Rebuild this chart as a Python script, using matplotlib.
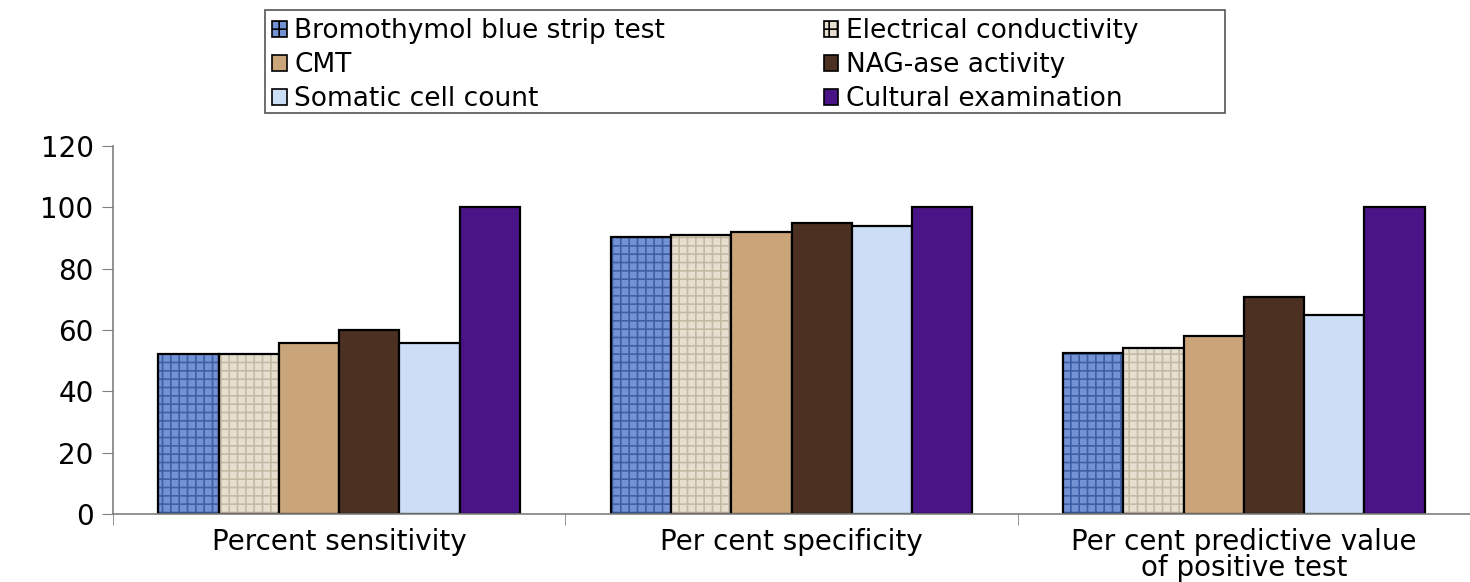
import matplotlib.pyplot as plt
import numpy as np

categories = ['Percent sensitivity', 'Per cent specificity',
              'Per cent predictive value\nof positive test']
tests = ['Bromothymol blue strip test', 'Electrical conductivity', 'CMT',
         'NAG-ase activity', 'Somatic cell count', 'Cultural examination']
values = {
    'Bromothymol blue strip test': [52.3, 90.2, 52.6],
    'Electrical conductivity':     [52.3, 90.9, 54.0],
    'CMT':                         [55.6, 91.9, 58.0],
    'NAG-ase activity':            [60.0, 94.9, 70.8],
    'Somatic cell count':          [55.6, 93.9, 64.8],
    'Cultural examination':        [100.0, 100.0, 100.0],
}

# fill colour, hatch colour, hatch (rough stand-ins for the picture textures)
styles = [('#7392d4', '#3d5fa6', '++'),
          ('#e6dfcf', '#c4b9a2', '++'),
          ('#caa57a', '#a8835a', ''),
          ('#4c3123', '#2f1c12', ''),
          ('#cbdef6', '#b8cdee', ''),
          ('#4b1486', '#3a0d6e', '')]

plt.rcParams['font.family'] = ['DejaVu Sans']
plt.rcParams['hatch.linewidth'] = 1.2

fig = plt.figure(figsize=(14.7, 5.82), dpi=100)
ax = fig.add_axes([113/1470, 1-514/582, 1-113/1470, (514-146)/582])

x = np.arange(len(categories))
w = 0.8 / len(tests)
handles = []
for i, t in enumerate(tests):
    fc, hc, h = styles[i]
    pos = x - 0.4 + w * (i + 0.5)
    ax.bar(pos, values[t], w, color=fc, edgecolor=hc, hatch=h, linewidth=0)
    ax.bar(pos, values[t], w, facecolor='none', edgecolor='black', linewidth=1.6)
    handles.append(plt.Rectangle((0, 0), 1, 1, facecolor=fc, edgecolor='black',
                                 linewidth=1.2, hatch=h))

ax.set_xlim(-0.5, -0.5 + 1357/455)
ax.set_ylim(0, 120)
ax.set_yticks(range(0, 121, 20))
ax.set_xticks(x)
ax.set_xticklabels(categories, fontsize=20, linespacing=0.9)
ax.set_xticks([-0.5, 0.5, 1.5, 2.5], minor=True)
ax.tick_params(axis='x', which='major', length=0, pad=10)
ax.tick_params(axis='x', which='minor', length=8, color='#808080', direction='out')
ax.tick_params(axis='y', length=8, color='#808080', labelsize=20, pad=6)
for s in ['top', 'right']:
    ax.spines[s].set_visible(False)
for s in ['left', 'bottom']:
    ax.spines[s].set_color('#808080')
    ax.spines[s].set_linewidth(1.2)

# legend is filled row by row in the picture
order = [0, 2, 4, 1, 3, 5]
leg = fig.legend([handles[k] for k in order], [tests[k] for k in order],
                 loc='upper left', ncol=2, bbox_to_anchor=(272/1470, 1-18/582),
                 fontsize=19, frameon=False, handlelength=0.55, handleheight=0.55,
                 handletextpad=0.3, labelspacing=0.31, columnspacing=6.0,
                 borderpad=0, borderaxespad=0)
fig.patches.append(plt.Rectangle((265/1470, 1-113/582), 960/1470, 103/582,
                                 transform=fig.transFigure, facecolor='none',
                                 edgecolor='#555555', linewidth=1.2))

fig.savefig('out.png', dpi=100)
